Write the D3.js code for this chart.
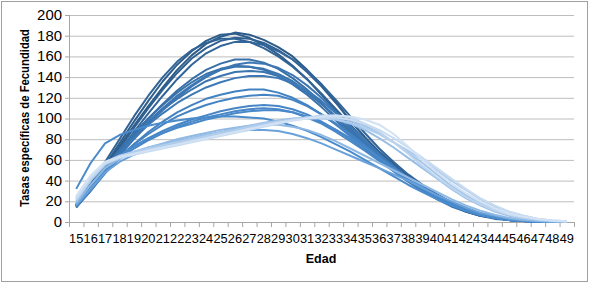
<!DOCTYPE html>
<html>
<head>
<meta charset="utf-8">
<script src="https://d3js.org/d3.v7.min.js"></script>
<title>Tasas especificas de fecundidad</title>
<style>
body { margin: 0; background: #fff; }
#root { width: 589px; height: 284px; display: block; }
.axis text { font-family: "Liberation Sans", Arial, sans-serif; fill: #000; }
.title { font-family: "Liberation Sans", Arial, sans-serif; font-weight: bold; fill: #000; }
</style>
</head>
<body>
<svg id="root"></svg>

<script>
// edades (categorias del eje x)
let ages = d3.range(15, 50)
let yTicks = [0, 20, 40, 60, 80, 100, 120, 140, 160, 180, 200]

// series, de la mas oscura (mayor pico) a la mas clara
let seriesD1 = [14,33,53,73,93,112,130,147,161,172,179,183,181,176,169,160,147,133,116,98,82,67,55,44,34,25,17,11,7,4,2,1.2,0.6,0.3,0.1]
let seriesD2 = [16,35,55,76,97,117,136,152,165,175,181,182,178,171,162,151,138,123,107,91,76,62,50,40,31,23,16,10,6,4,2,1,0.5,0.3,0.1]
let seriesD3 = [15,32,51,71,91,110,128,144,158,168,175,178,177,173,166,157,145,131,115,98,82,68,56,45,35,26,18,12,7,4,2,1.2,0.6,0.3,0.1]
let seriesD4 = [17,37,58,80,102,122,140,155,166,173,177,177,174,168,160,150,138,124,109,94,79,65,53,42,33,24,17,11,7,4,2,1,0.5,0.3,0.1]
let seriesD5 = [15,31,49,68,87,105,122,138,152,163,170,174,174,171,165,157,146,133,118,102,86,71,58,46,36,27,19,12,8,4,2,1.2,0.6,0.3,0.1]
let seriesC1 = [15,32,50,67,84,100,114,127,138,147,153,157,157,154,148,139,128,115,101,87,74,61,50,40,31,23,16,10,6,4,2,1,0.5,0.3,0.1]
let seriesC2 = [16,34,53,70,86,100,113,125,135,143,148,151,150,147,141,133,123,111,98,85,72,60,49,39,30,22,15,10,6,3,2,1,0.5,0.3,0.1]
let seriesC3 = [15,31,49,66,82,97,110,122,132,141,147,150,150,148,143,136,126,114,101,88,75,62,51,41,32,24,17,11,7,4,2,1,0.5,0.3,0.1]
let seriesC4 = [16,33,51,68,83,97,109,119,128,136,141,145,146,145,141,134,125,114,102,89,76,63,52,42,33,25,18,12,7,4,2,1,0.5,0.3,0.1]
let seriesC5 = [14,30,48,64,80,95,108,120,131,140,147,152,154,153,149,142,132,120,106,92,78,65,53,42,33,25,17,11,7,4,2,1,0.5,0.3,0.1]
let seriesC6 = [15,32,50,66,81,94,105,115,123,130,135,139,141,141,139,134,127,117,105,92,79,66,54,43,34,26,18,12,7,4,2,1,0.5,0.3,0.1]
let seriesB1 = [15,30,47,62,75,87,97,106,113,119,123,126,128,128,125,120,113,104,94,83,72,61,51,41,32,24,17,11,7,4,2,1,0.5,0.3,0.1]
let seriesB2 = [16,32,49,63,75,85,94,102,108,113,117,120,122,123,122,118,112,104,95,85,74,63,52,42,33,25,18,12,7,4,2,1,0.5,0.3,0.1]
let seriesA1 = [16,33,50,63,73,81,88,94,99,103,107,110,112,113,112,109,104,97,89,80,70,60,50,41,32,24,17,11,7,4,2,1,0.5,0.3,0.1]
let seriesA2 = [15,31,48,61,71,79,86,92,97,101,104,107,109,110,109,106,101,95,87,78,69,59,49,40,31,24,17,11,7,4,2,1,0.5,0.3,0.1]
let seriesA3 = [17,35,52,64,73,80,86,91,95,99,102,105,107,108,108,106,102,96,89,81,72,62,52,42,33,25,18,12,7,4,2,1,0.5,0.3,0.1]
let seriesE1 = [32,57,76,84,89,93,96,98,100,101,102,102,101,100,97,93,88,82,75,68,60,52,44,36,29,22,16,11,7,4,2,1,0.5,0.3,0.2]
let seriesM1 = [16,32,48,58,65,70,74,78,81,84,86,88,89,89,88,85,81,76,70,64,58,52,46,40,33,26,20,14,9,6,3,2,1,0.5,0.3]
let seriesM2 = [18,36,52,61,67,72,76,80,83,86,89,91,93,94,94,92,89,84,78,71,64,57,50,43,36,29,22,16,11,7,4,2,1,0.5,0.3]
let seriesL1 = [20,40,55,63,68,72,75,78,81,84,87,90,93,96,98,100,101,101,99,95,89,81,72,62,52,42,32,23,16,10,6,3.5,2,1,0.5]
let seriesL2 = [22,42,57,63,67,70,73,76,79,82,85,88,91,94,97,99,101,102,101,98,93,86,77,67,57,46,35,26,18,12,7,4,2,1,0.5]
let seriesL3 = [24,44,58,64,68,71,74,77,80,83,86,89,92,95,97,99,100,100,99,96,91,85,77,69,60,50,40,31,22,15,10,6,3,1.5,0.7]
let seriesL4 = [21,41,56,62,66,69,72,75,78,81,84,87,90,93,96,99,101,103,103,101,95,87,77,66,54,43,33,24,17,11,7,4,2.5,1.2,0.6]
let seriesL5 = [23,43,57,62,65,68,71,74,77,80,83,86,89,92,95,98,100,101,101,99,95,89,81,72,62,52,42,32,23,16,10,6,3,1.5,0.8]
let seriesL6 = [25,45,58,63,66,69,72,75,78,81,84,87,90,93,96,98,100,102,103,102,99,94,85,73,60,48,37,28,20,13,8,5,3,1.5,0.8]

let allSeries = [
	seriesD1, seriesD2, seriesD3, seriesD4, seriesD5,
	seriesC1, seriesC2, seriesC3, seriesC4, seriesC5, seriesC6,
	seriesB1, seriesB2,
	seriesA1, seriesA2, seriesA3, seriesE1, seriesM1, seriesM2,
	seriesL1, seriesL2, seriesL3, seriesL4, seriesL5, seriesL6
]

let svg = d3.select('#root')

let plotLeft = 69, plotRight = 574, plotTop = 15, plotBottom = 222

// marco exterior
svg.append('rect')
	.attr('x', 1.5).attr('y', 1.5)
	.attr('width', 586).attr('height', 280)
	.attr('fill', '#fff').attr('stroke', '#a0a0a0')

let x = d3.scaleBand().domain(ages).range([plotLeft, plotRight]).paddingInner(0).paddingOuter(0)
let xEdge = d3.scaleLinear().domain([0, ages.length]).range([plotLeft, plotRight])
let y = d3.scaleLinear().domain([0, 200]).range([plotBottom, plotTop])

// lineas de cuadricula
let grid = svg.append('g')
	.attr('transform', 'translate(' + plotLeft + ',0)')
	.call(d3.axisLeft(y).tickValues(yTicks.slice(1)).tickSize(-(plotRight - plotLeft)).tickFormat(''))
grid.select('.domain').remove()
grid.selectAll('line').attr('stroke', '#bdbdbd')

// eje y
let yAxis = svg.append('g').attr('class', 'axis')
	.attr('transform', 'translate(' + plotLeft + ',0)')
	.call(d3.axisLeft(y).tickValues(yTicks).tickSize(4).tickPadding(3))
yAxis.select('.domain').attr('stroke', '#a6a6a6').attr('d', 'M0.5,' + plotTop + 'V' + plotBottom)
yAxis.selectAll('line').attr('stroke', '#a6a6a6')
yAxis.selectAll('text').style('font-size', '14px')
	.attr('textLength', d => String(d).length * 8.3).attr('lengthAdjust', 'spacingAndGlyphs')

// marcas del eje x (entre categorias)
let xTicks = svg.append('g')
	.attr('transform', 'translate(0,' + plotBottom + ')')
	.call(d3.axisBottom(xEdge).tickValues(d3.range(0, ages.length + 1)).tickSize(5).tickFormat(''))
xTicks.select('.domain').attr('stroke', '#a6a6a6')
xTicks.selectAll('line').attr('stroke', '#a6a6a6')

// etiquetas del eje x
let xAxis = svg.append('g').attr('class', 'axis')
	.attr('transform', 'translate(0,' + plotBottom + ')')
	.call(d3.axisBottom(x).tickSize(0).tickPadding(12))
xAxis.select('.domain').remove()
xAxis.selectAll('text').style('font-size', '12.5px')
	.attr('textLength', 14.2).attr('lengthAdjust', 'spacingAndGlyphs')

// lineas
let color = d3.scaleLinear()
	.domain([0, 4, 5, 10, 11, 16, 17, 18, allSeries.length - 1])
	.range(['#2c5b88', '#32659a', '#3870a8', '#3d79b6', '#4382c2', '#4a8bcc', '#6aa1da', '#8fb8e3', '#d2e2f4'])

let line = d3.line()
	.x((d, i) => x(ages[i]) + x.bandwidth() / 2)
	.y(d => y(d))

svg.append('g').selectAll('path')
	.data(allSeries)
	.enter().append('path')
	.attr('d', line)
	.attr('fill', 'none')
	.attr('stroke', (d, i) => color(i))
	.attr('stroke-width', 2)
	.attr('stroke-linejoin', 'round')

// titulos
svg.append('text').attr('class', 'title')
	.attr('transform', 'translate(29,118) rotate(-90)')
	.attr('text-anchor', 'middle')
	.style('font-size', '12.5px')
	.attr('textLength', 178).attr('lengthAdjust', 'spacingAndGlyphs')
	.text('Tasas específicas de Fecundidad')

svg.append('text').attr('class', 'title')
	.attr('x', 321).attr('y', 263)
	.attr('text-anchor', 'middle')
	.style('font-size', '12.5px')
	.text('Edad')
</script>
</body>
</html>
